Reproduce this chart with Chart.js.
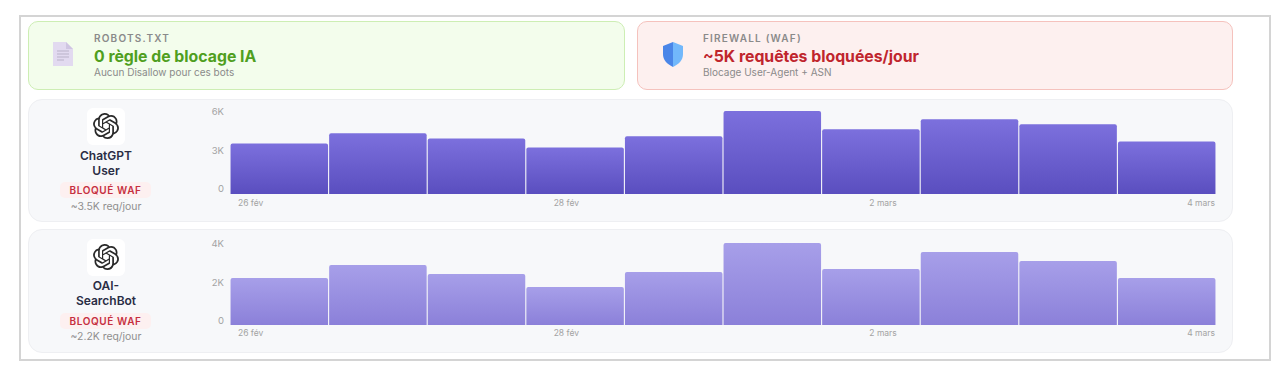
<!DOCTYPE html>
<html lang="fr">
<head>
<meta charset="utf-8">
<title>Blocage des bots IA</title>
<script src="https://cdn.jsdelivr.net/npm/chart.js@4"></script>
<style>
  html, body { margin: 0; padding: 0; background: #fff; }
  body { width: 1282px; height: 380px; position: relative; overflow: hidden; font-family: Inter, "Noto Sans", sans-serif; }
  .frame { position: absolute; left: 19px; top: 15px; width: 1248px; height: 342px; border: 2px solid #d4d4d4; box-sizing: content-box; }
  .card { position: absolute; top: 21px; height: 69px; box-sizing: border-box; border-radius: 10px; border: 1.5px solid; }
  .green { left: 28px; width: 597px; background: #f3fdec; border-color: #cdeeb4; }
  .red { left: 637px; width: 596px; background: #fdf0ef; border-color: #f5c2bd; }
  .icon { position: absolute; left: 24px; top: 20px; }
  .kicker { position: absolute; left: 65px; top: 10px; font-size: 10px; font-weight: 600; letter-spacing: 1.2px; color: #8a8a8a; white-space: nowrap; }
  .big { position: absolute; left: 65px; top: 25px; font-size: 15.8px; font-weight: 700; white-space: nowrap; }
  .green .big { color: #4f9f20; }
  .red .big { color: #c0252d; }
  .small { position: absolute; left: 65px; top: 44px; font-size: 10px; color: #8a8a8a; white-space: nowrap; }
  .row { position: absolute; left: 28px; width: 1205px; box-sizing: border-box; background: #f7f8fa; border: 1px solid #eeeff2; border-radius: 14px; }
  .tile { position: absolute; left: 58px; top: 8px; width: 38px; height: 37px; background: #fff; border-radius: 6px; }
  .tile svg { position: absolute; left: 6px; top: 5px; }
  .name { position: absolute; left: 17px; width: 120px; top: 48px; text-align: center; font-size: 12px; line-height: 15px; font-weight: 600; color: #2a2d45; }
  .badge { position: absolute; left: 31px; top: 82px; width: 91px; height: 16px; line-height: 16px; text-align: center; background: #fdf0f0; border-radius: 5px; font-size: 10px; font-weight: 600; letter-spacing: .6px; color: #c62f3f; }
  .rate { position: absolute; left: 17px; width: 120px; top: 100px; text-align: center; font-size: 10.4px; color: #8f8f8f; }
  .ylabels { position: absolute; left: 165px; top: 6px; width: 30px; height: 89px; display: flex; flex-direction: column; justify-content: space-between; align-items: flex-end; font-size: 9.5px; line-height: 12px; color: #a3a3a3; }
  .plot { position: absolute; left: 201px; width: 986px; }
  .dates { position: absolute; left: 209px; top: 98px; width: 977px; display: flex; justify-content: space-between; font-size: 8.5px; color: #a3a3a3; }
</style>
</head>
<body>
<div class="frame"></div>

<div class="card green">
  <svg class="icon" width="20" height="24" viewBox="0 0 20 24">
    <path d="M0 0H13L20 7V24H0Z" fill="#e2daf0"/><path d="M13 0L20 7H13Z" fill="#cfc5e2"/>
    <path d="M4 9H16M4 12H16M4 15H16M4 18H11" stroke="#b9b2c8" stroke-width="1"/>
  </svg>
  <div class="kicker">ROBOTS.TXT</div>
  <div class="big">0 règle de blocage IA</div>
  <div class="small">Aucun Disallow pour ces bots</div>
</div>

<div class="card red">
  <svg class="icon" width="22" height="25" viewBox="0 0 22 25">
    <path d="M11 0L21 4V12C21 18 17 22 11 25Z" fill="#72b8fb"/>
    <path d="M11 0L1 4V12C1 18 5 22 11 25Z" fill="#4a86e8"/>
  </svg>
  <div class="kicker">FIREWALL (WAF)</div>
  <div class="big">~5K requêtes bloquées/jour</div>
  <div class="small">Blocage User-Agent + ASN</div>
</div>

<div class="row" style="top:99px;height:123px">
  <div class="tile"><svg width="26" height="26" viewBox="0 0 24 24"><path fill="#2a2a2a" d="M22.2819 9.8211a5.9847 5.9847 0 0 0-.5157-4.9108 6.0462 6.0462 0 0 0-6.5098-2.9A6.0651 6.0651 0 0 0 4.9807 4.1818a5.9847 5.9847 0 0 0-3.9977 2.9 6.0462 6.0462 0 0 0 .7427 7.0966 5.98 5.98 0 0 0 .511 4.9107 6.051 6.051 0 0 0 6.5146 2.9001A5.9847 5.9847 0 0 0 13.2599 24a6.0557 6.0557 0 0 0 5.7718-4.2058 5.9894 5.9894 0 0 0 3.9977-2.9001 6.0557 6.0557 0 0 0-.7475-7.0729zm-9.022 12.6081a4.4755 4.4755 0 0 1-2.8764-1.0408l.1419-.0804 4.7783-2.7582a.7948.7948 0 0 0 .3927-.6813v-6.7369l2.02 1.1686a.071.071 0 0 1 .038.052v5.5826a4.504 4.504 0 0 1-4.4945 4.4944zm-9.6607-4.1254a4.4708 4.4708 0 0 1-.5346-3.0137l.142.0852 4.783 2.7582a.7712.7712 0 0 0 .7806 0l5.8428-3.3685v2.3324a.0804.0804 0 0 1-.0332.0615L9.74 19.9502a4.4992 4.4992 0 0 1-6.1408-1.6464zM2.3408 7.8956a4.485 4.485 0 0 1 2.3655-1.9728V11.6a.7664.7664 0 0 0 .3879.6765l5.8144 3.3543-2.0201 1.1685a.0757.0757 0 0 1-.071 0l-4.8303-2.7865A4.504 4.504 0 0 1 2.3408 7.872zm16.5963 3.8558L13.1038 8.364 15.1192 7.2a.0757.0757 0 0 1 .071 0l4.8303 2.7913a4.4944 4.4944 0 0 1-.6765 8.1042v-5.6772a.79.79 0 0 0-.407-.667zm2.0107-3.0231l-.142-.0852-4.7735-2.7818a.7759.7759 0 0 0-.7854 0L9.409 9.2297V6.8974a.0662.0662 0 0 1 .0284-.0615l4.8303-2.7866a4.4992 4.4992 0 0 1 6.6802 4.66zM8.3065 12.863l-2.02-1.1638a.0804.0804 0 0 1-.038-.0567V6.0742a4.4992 4.4992 0 0 1 7.3757-3.4537l-.142.0805L8.704 5.459a.7948.7948 0 0 0-.3927.6813zm1.0976-2.3654l2.602-1.4998 2.6069 1.4998v2.9994l-2.5974 1.4997-2.6067-1.4997Z"/></svg></div>
  <div class="name">ChatGPT<br>User</div>
  <div class="badge">BLOQUÉ WAF</div>
  <div class="rate">~3.5K req/jour</div>
  <div class="ylabels" id="ylabels1"></div>
  <div class="plot" style="top:11px;height:83px"><canvas id="chart1"></canvas></div>
  <div class="dates" id="dates1"></div>
</div>

<div class="row" style="top:229px;height:124px">
  <div class="tile" style="top:9px"><svg width="26" height="26" viewBox="0 0 24 24"><path fill="#2a2a2a" d="M22.2819 9.8211a5.9847 5.9847 0 0 0-.5157-4.9108 6.0462 6.0462 0 0 0-6.5098-2.9A6.0651 6.0651 0 0 0 4.9807 4.1818a5.9847 5.9847 0 0 0-3.9977 2.9 6.0462 6.0462 0 0 0 .7427 7.0966 5.98 5.98 0 0 0 .511 4.9107 6.051 6.051 0 0 0 6.5146 2.9001A5.9847 5.9847 0 0 0 13.2599 24a6.0557 6.0557 0 0 0 5.7718-4.2058 5.9894 5.9894 0 0 0 3.9977-2.9001 6.0557 6.0557 0 0 0-.7475-7.0729zm-9.022 12.6081a4.4755 4.4755 0 0 1-2.8764-1.0408l.1419-.0804 4.7783-2.7582a.7948.7948 0 0 0 .3927-.6813v-6.7369l2.02 1.1686a.071.071 0 0 1 .038.052v5.5826a4.504 4.504 0 0 1-4.4945 4.4944zm-9.6607-4.1254a4.4708 4.4708 0 0 1-.5346-3.0137l.142.0852 4.783 2.7582a.7712.7712 0 0 0 .7806 0l5.8428-3.3685v2.3324a.0804.0804 0 0 1-.0332.0615L9.74 19.9502a4.4992 4.4992 0 0 1-6.1408-1.6464zM2.3408 7.8956a4.485 4.485 0 0 1 2.3655-1.9728V11.6a.7664.7664 0 0 0 .3879.6765l5.8144 3.3543-2.0201 1.1685a.0757.0757 0 0 1-.071 0l-4.8303-2.7865A4.504 4.504 0 0 1 2.3408 7.872zm16.5963 3.8558L13.1038 8.364 15.1192 7.2a.0757.0757 0 0 1 .071 0l4.8303 2.7913a4.4944 4.4944 0 0 1-.6765 8.1042v-5.6772a.79.79 0 0 0-.407-.667zm2.0107-3.0231l-.142-.0852-4.7735-2.7818a.7759.7759 0 0 0-.7854 0L9.409 9.2297V6.8974a.0662.0662 0 0 1 .0284-.0615l4.8303-2.7866a4.4992 4.4992 0 0 1 6.6802 4.66zM8.3065 12.863l-2.02-1.1638a.0804.0804 0 0 1-.038-.0567V6.0742a4.4992 4.4992 0 0 1 7.3757-3.4537l-.142.0805L8.704 5.459a.7948.7948 0 0 0-.3927.6813zm1.0976-2.3654l2.602-1.4998 2.6069 1.4998v2.9994l-2.5974 1.4997-2.6067-1.4997Z"/></svg></div>
  <div class="name">OAI-<br>SearchBot</div>
  <div class="badge" style="top:83px">BLOQUÉ WAF</div>
  <div class="rate">~2.2K req/jour</div>
  <div class="ylabels" id="ylabels2" style="top:8px"></div>
  <div class="plot" style="top:13px;height:82px"><canvas id="chart2"></canvas></div>
  <div class="dates" id="dates2"></div>
</div>

<script>
// valeurs
let days = ['26 fév','27 fév','28 fév','1 mars','2 mars','3 mars','4 mars','5 mars','6 mars','7 mars'];
let dateLabels = ['26 fév','28 fév','2 mars','4 mars'];
let chatgptValues = [3650, 4390, 4020, 3360, 4170, 6000, 4680, 5410, 5050, 3800];
let searchbotValues = [2290, 2930, 2490, 1850, 2590, 4000, 2730, 3560, 3120, 2290];
let chatgptTicks = ['6K', '3K', '0'];
let searchbotTicks = ['4K', '2K', '0'];

function draw(id, values, yMax, topColor, bottomColor) {
  // dégradé par barre, du haut de la barre jusqu'à la base
  function barFill(context) {
    let chart = context.chart;
    if (!chart.chartArea || context.raw === undefined) return bottomColor;
    let yScale = chart.scales.y;
    let g = chart.ctx.createLinearGradient(0, yScale.getPixelForValue(context.raw), 0, yScale.getPixelForValue(0));
    g.addColorStop(0, topColor);
    g.addColorStop(1, bottomColor);
    return g;
  }

  new Chart(document.getElementById(id).getContext('2d'), {
    type: 'bar',
    data: {
      labels: days,
      datasets: [{
        data: values,
        backgroundColor: barFill,
        borderRadius: { topLeft: 2, topRight: 2 },
        borderSkipped: false,
        categoryPercentage: 1,
        barPercentage: 0.989
      }]
    },
    options: {
      responsive: true,
      maintainAspectRatio: false,
      animation: false,
      plugins: { legend: { display: false }, tooltip: { enabled: false } },
      scales: {
        x: { display: false },
        y: { display: false, min: 0, max: yMax }
      }
    }
  });
}

// les libellés d'axe sont en html, ils ne tombent pas sur les graduations
function fillLabels(id, labels) {
  let box = document.getElementById(id);
  labels.forEach(function (d) {
    let s = document.createElement('span');
    s.textContent = d;
    box.appendChild(s);
  });
}

draw('chart1', chatgptValues, 6000, '#7c70dd', '#5a4ebf');
draw('chart2', searchbotValues, 4000, '#a79fe9', '#8b80d9');
fillLabels('ylabels1', chatgptTicks);
fillLabels('ylabels2', searchbotTicks);
fillLabels('dates1', dateLabels);
fillLabels('dates2', dateLabels);
</script>
</body>
</html>
